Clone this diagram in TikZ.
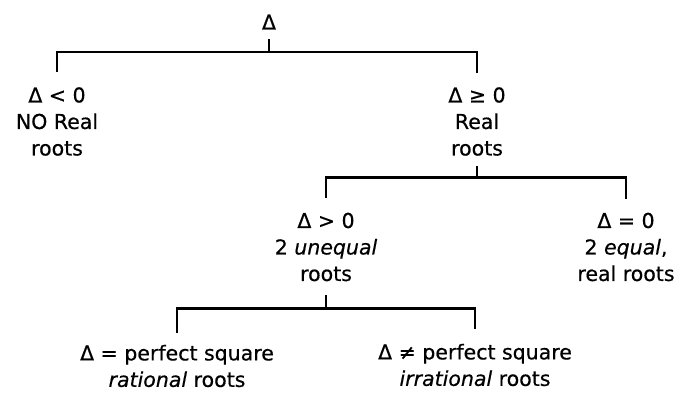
\documentclass[tikz,border=0pt]{standalone}
\usepackage{fontspec}
\setmainfont{DejaVu Sans}[FakeBold=0.5]
\begin{document}
\begin{tikzpicture}[x=1pt,y=-1pt,
  lbl/.style={align=center, inner sep=0pt, font=\fontsize{20.5}{26.5}\selectfont},
  conn/.style={line width=2.5pt, line join=miter, line cap=rect}]
\useasboundingbox[fill=white] (0,0) rectangle (684,392);
% nodes
\node[lbl] (root)   at (269,22)    {Δ};
\node[lbl] (neg)    at (57,121.5)  {Δ < 0\\NO Real\\roots};
\node[lbl] (nonneg) at (477,121.5) {Δ ≥ 0\\Real\\roots};
\node[lbl] (pos)    at (326,247)   {Δ > 0\\2 \textit{unequal}\\roots};
\node[lbl] (zero)   at (626,247)   {Δ = 0\\2 \textit{equal},\\real roots};
\node[lbl] (sq)     at (177,366)   {Δ = perfect square\\\textit{rational} roots};
\node[lbl] (nsq)    at (475,365)   {Δ ≠ perfect square\\\textit{irrational} roots};
% connectors
\draw[conn] ([yshift=-10.5pt]root.south) -- ++(0,12) coordinate (j1);
\draw[conn] ([yshift=16.5pt]neg.north) |- (j1) -| ([yshift=15.5pt]nonneg.north);
\draw[conn] ([yshift=-11.5pt]nonneg.south) -- ++(0,10) coordinate (j2);
\draw[conn] ([yshift=15.5pt]pos.north) |- (j2) -| ([yshift=14.5pt]zero.north);
\draw[conn] ([yshift=-15pt]pos.south) -- ++(0,12) coordinate (j3);
\draw[conn] ([yshift=13pt]sq.north) |- (j3) -| ([yshift=16pt]nsq.north);
\end{tikzpicture}
\end{document}
